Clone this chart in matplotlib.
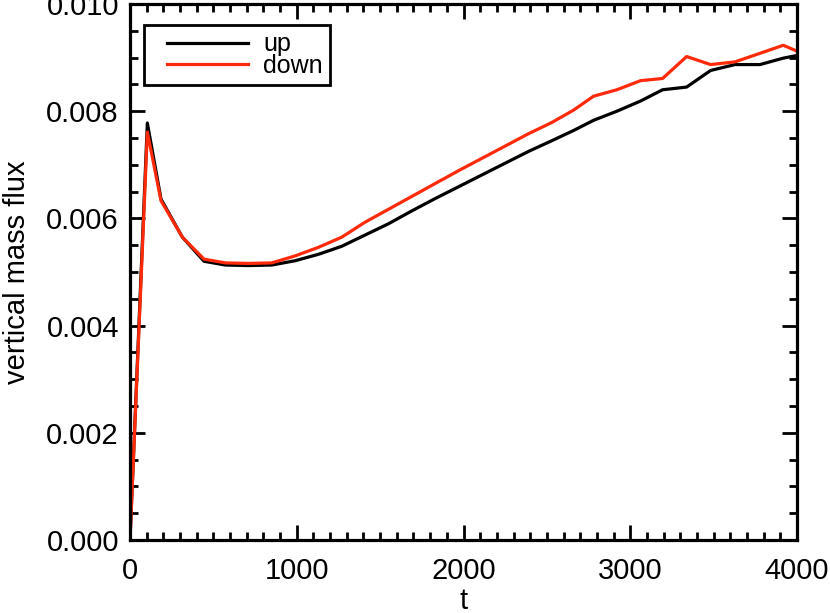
import matplotlib
matplotlib.use('Agg')
import matplotlib.pyplot as plt
from matplotlib.legend_handler import HandlerLine2D
from matplotlib.ticker import MultipleLocator, FormatStrFormatter

plt.rcParams['font.family'] = ['Liberation Sans', 'DejaVu Sans']

# time samples and fluxes
t = [0, 104, 186, 314, 444, 572, 710, 850, 990, 1130, 1270, 1410, 1550, 1690,
     1830, 1970, 2110, 2250, 2390, 2530, 2660, 2780, 2920, 3062, 3194, 3338,
     3482, 3628, 3778, 3918, 4000]
flux_up = [0.0, 0.00778, 0.00636, 0.00565, 0.00520, 0.00513, 0.00512, 0.00513,
           0.00521, 0.00533, 0.00548, 0.00569, 0.00590, 0.00614, 0.00637,
           0.00659, 0.00681, 0.00703, 0.00725, 0.00745, 0.00764, 0.00783,
           0.00800, 0.00819, 0.00840, 0.00845, 0.00876, 0.00887, 0.00887,
           0.00899, 0.00904]
flux_down = [0.0, 0.00761, 0.00633, 0.00565, 0.00524, 0.00517, 0.00516, 0.00517,
             0.00530, 0.00546, 0.00565, 0.00593, 0.00617, 0.00641, 0.00665,
             0.00689, 0.00712, 0.00735, 0.00758, 0.00779, 0.00802, 0.00828,
             0.00840, 0.00857, 0.00861, 0.00902, 0.00887, 0.00892, 0.00908,
             0.00923, 0.00912]

fig = plt.figure(figsize=(8.3, 6.13), dpi=100)
ax = fig.add_axes([130/830, 73/613, 667/830, 536/613])

ax.plot(t, flux_up, color='black', lw=2.3, label='up')
ax.plot(t, flux_down, color='#ff2a0a', lw=2.3, label='down')

ax.set_xlim(0, 4000)
ax.set_ylim(0, 0.010)
ax.xaxis.set_major_locator(MultipleLocator(1000))
ax.xaxis.set_minor_locator(MultipleLocator(100))
ax.yaxis.set_major_locator(MultipleLocator(0.002))
ax.yaxis.set_minor_locator(MultipleLocator(0.0005))
ax.yaxis.set_major_formatter(FormatStrFormatter('%.3f'))

ax.tick_params(which='both', direction='in', top=True, right=True,
               labelsize=21, width=2)
ax.tick_params(axis='y', pad=8)
ax.tick_params(axis='x', pad=12)
ax.tick_params(which='major', length=11)
ax.tick_params(which='minor', length=5.5)
for s in ax.spines.values():
    s.set_linewidth(2.3)

ax.set_xlabel('t', fontsize=21, labelpad=2)
ax.set_ylabel('vertical mass flux', fontsize=21, labelpad=11)

leg = ax.legend(loc='upper left', bbox_to_anchor=(0.021, 0.961),
                borderaxespad=0, fontsize=18, handlelength=3.86,
                handletextpad=0.6, labelspacing=-0.1, borderpad=0.3,
                fancybox=False, framealpha=1,
                handler_map={plt.Line2D: HandlerLine2D(xpad=0.62)})
leg.get_frame().set_edgecolor('black')
leg.get_frame().set_linewidth(2)

fig.savefig('out.png', dpi=100)
